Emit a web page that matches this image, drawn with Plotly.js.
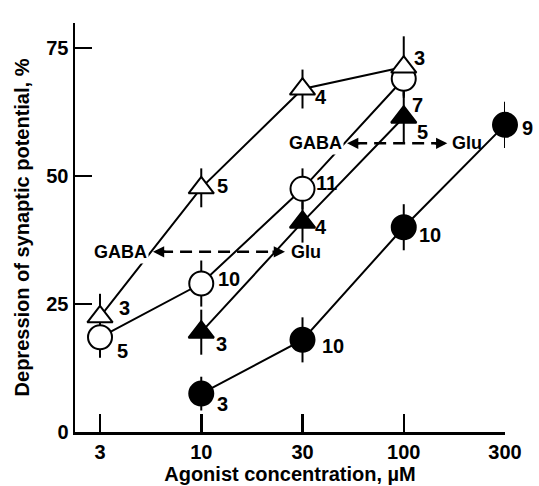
<!DOCTYPE html>
<html>
<head>
<meta charset="utf-8">
<script src="https://cdn.plot.ly/plotly-3.0.1.min.js"></script>
<style>html,body{margin:0;padding:0;background:#fff;}#chart{width:539px;height:486px;}</style>
</head>
<body>
<div id="chart"></div>
<script>
// Tick categories (agonist concentration, µM)
const concTicks = ['3', '10', '30', '100', '300'];
const yTicks = [0, 25, 50, 75];

// Open triangles
const xOpenTri = [3, 10, 30, 100];
const yOpenTri = [22.5, 47.7, 67, 71.3];
const eOpenTri = [4.5, 3.8, 3.8, 6];
const nOpenTri = [3, 5, 4, 3];

// Open circles
const xOpenCirc = [3, 10, 30, 100];
const yOpenCirc = [18.5, 29, 47.5, 69];
const eOpenCirc = [4, 4.5, 4, 3.3];
const nOpenCirc = [5, 10, 11, 7];

// Filled triangles
const xFillTri = [10, 30, 100];
const yFillTri = [19.5, 41, 61.5];
const eFillTri = [4.4, 4, 5];
const nFillTri = [3, 4, 5];

// Filled circles
const xFillCirc = [10, 30, 100, 300];
const yFillCirc = [7.5, 18, 40, 60];
const eFillCirc = [3.3, 4.4, 4.5, 4.5];
const nFillCirc = [3, 10, 10, 9];

const FONT = 'Liberation Sans, Arial, Helvetica, sans-serif';

function errTrace(x, y, e) {
  return {
    type: 'scatter', mode: 'markers', x: x.map(String), y: y,
    marker: {size: 1, color: 'rgba(0,0,0,0)'},
    error_y: {type: 'data', array: e, visible: true, color: 'black', thickness: 2, width: 0},
    cliponaxis: false, showlegend: false, hoverinfo: 'skip'
  };
}
function series(x, y, symbol, size, fill) {
  return {
    type: 'scatter', mode: 'lines+markers',
    x: x.map(String), y: y,
    line: {color: 'black', width: 2},
    marker: {symbol: symbol, size: size, color: fill, line: {color: 'black', width: 2}},
    cliponaxis: false, showlegend: false, hoverinfo: 'x+y'
  };
}

const traces = [
  errTrace(xFillCirc, yFillCirc, eFillCirc),
  errTrace(xFillTri, yFillTri, eFillTri),
  errTrace(xOpenCirc, yOpenCirc, eOpenCirc),
  errTrace(xOpenTri, yOpenTri, eOpenTri),
  series(xFillCirc, yFillCirc, 'circle', 24, 'black'),
  series(xFillTri, yFillTri, 'triangle-up', 22, 'black'),
  series(xOpenCirc, yOpenCirc, 'circle', 24, 'white'),
  series(xOpenTri, yOpenTri, 'triangle-up', 22, 'white')
];

// label offsets (pixels: right, down) for the n-values
const offOpenTri = [[24, -9], [21, -2], [18, 8], [16, -9]];
const offOpenCirc = [[22, 14], [28, -5], [24, -6], [14, 26]];
const offFillTri = [[20, 12], [18, 5], [19, 15]];
const offFillCirc = [[21, 10], [30, 6], [26, 8], [22, 3]];

const annotations = [];
function nLabels(x, y, n, off) {
  for (let i = 0; i < x.length; i++) {
    annotations.push({
      xref: 'x', yref: 'y', x: concTicks.indexOf(String(x[i])), y: y[i], text: String(n[i]),
      showarrow: false, xshift: off[i][0], yshift: -off[i][1],
      font: {family: FONT, size: 20, weight: 700, color: 'black'}
    });
  }
}
nLabels(xOpenTri, yOpenTri, nOpenTri, offOpenTri);
nLabels(xOpenCirc, yOpenCirc, nOpenCirc, offOpenCirc);
nLabels(xFillTri, yFillTri, nFillTri, offFillTri);
nLabels(xFillCirc, yFillCirc, nFillCirc, offFillCirc);

// Shift arrows (GABA <-> Glu)
const shapes = [];
function shiftArrow(xl, xr, y, xGaba, xGlu) {
  shapes.push({type: 'line', xref: 'x', yref: 'y', x0: xl + 0.08, x1: xr - 0.08, y0: y, y1: y,
    line: {color: 'black', width: 2.5, dash: '12px,7px'}});
  annotations.push({xref: 'x', yref: 'y', x: xl, y: y, ax: 14, ay: 0, text: '', showarrow: true,
    arrowhead: 2, arrowsize: 0.9, arrowwidth: 2.5, arrowcolor: 'black'});
  annotations.push({xref: 'x', yref: 'y', x: xr, y: y, ax: -14, ay: 0, text: '', showarrow: true,
    arrowhead: 2, arrowsize: 0.9, arrowwidth: 2.5, arrowcolor: 'black'});
  annotations.push({xref: 'x', yref: 'y', x: xGaba, y: y, text: 'GABA', showarrow: false,
    bgcolor: 'white', borderpad: 1, font: {family: FONT, size: 18, weight: 700, color: 'black'}});
  annotations.push({xref: 'x', yref: 'y', x: xGlu, y: y, text: 'Glu', showarrow: false,
    font: {family: FONT, size: 18, weight: 700, color: 'black'}});
}
shiftArrow(0.523, 1.827, 35.2, 0.2, 2.03);
shiftArrow(2.44, 3.43, 56.4, 2.13, 3.62);

const layout = {
  width: 539, height: 486,
  margin: {l: 75, r: 34, t: 23, b: 54, pad: 0},
  paper_bgcolor: 'white', plot_bgcolor: 'white',
  font: {family: FONT, size: 20, color: 'black', weight: 700},
  showlegend: false,
  xaxis: {
    type: 'category', categoryorder: 'array', categoryarray: concTicks,
    range: [-0.247, 4.0], showgrid: false, zeroline: false,
    showline: true, linecolor: 'black', linewidth: 2.5,
    ticks: 'inside', ticklen: 18, tickwidth: 2.5, tickcolor: 'black',
    tickfont: {family: FONT, size: 20, weight: 700, color: 'black'},
    title: {text: 'Agonist concentration, µM', standoff: 4,
      font: {family: FONT, size: 20, weight: 700, color: 'black'}}
  },
  yaxis: {
    range: [0, 79.9], tickvals: yTicks, ticktext: yTicks.map(String),
    showgrid: false, zeroline: false,
    showline: true, linecolor: 'black', linewidth: 2.5,
    ticks: 'inside', ticklen: 17, tickwidth: 2.5, tickcolor: 'black',
    tickfont: {family: FONT, size: 20, weight: 700, color: 'black'},
    title: {text: 'Depression of synaptic potential, %', standoff: 12,
      font: {family: FONT, size: 20, weight: 700, color: 'black'}}
  },
  shapes: shapes,
  annotations: annotations
};

Plotly.newPlot('chart', traces, layout, {displayModeBar: false, staticPlot: true});
</script>
</body>
</html>
